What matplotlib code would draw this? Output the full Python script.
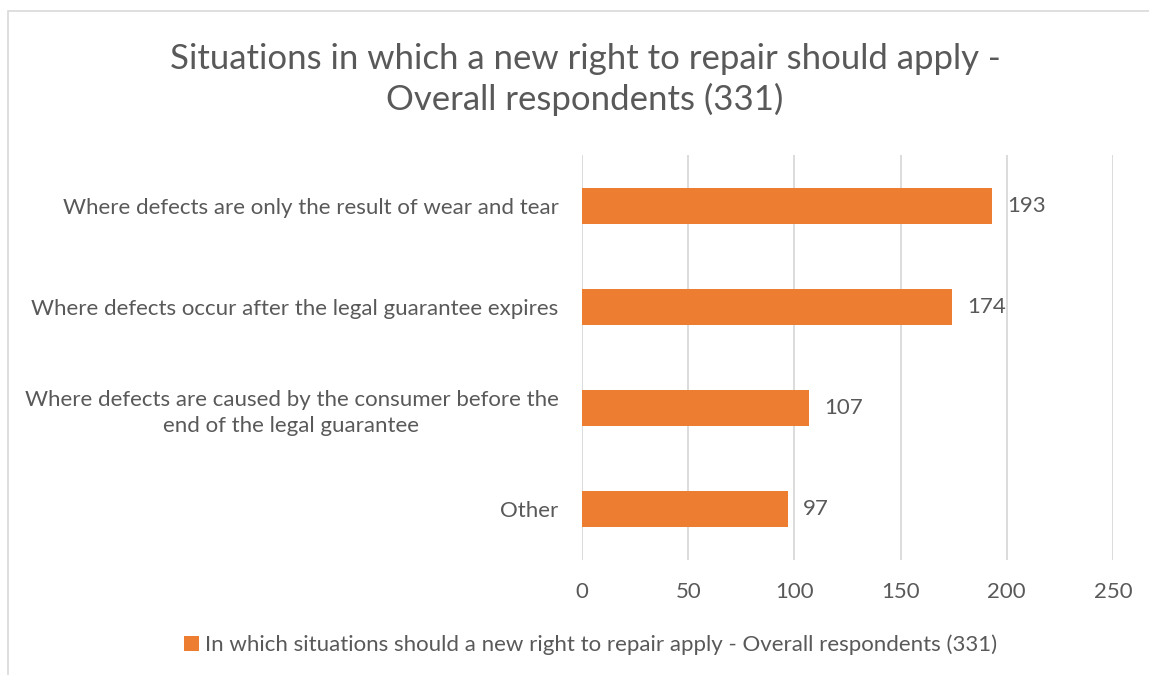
import matplotlib
matplotlib.use("Agg")
import matplotlib.pyplot as plt
from matplotlib.patches import Rectangle, Patch

categories = [
    "Where defects are only the result of wear and tear",
    "Where defects occur after the legal guarantee expires",
    "Where defects are caused by the consumer before the\nend of the legal guarantee",
    "Other",
]
values = [193, 174, 107, 97]
xticks = [0, 50, 100, 150, 200, 250]
title = "Situations in which a new right to repair should apply -\nOverall respondents (331)"
series_name = "In which situations should a new right to repair apply - Overall respondents (331)"

BAR = "#ED7D31"
TXT = "#595959"
GRID = "#D9D9D9"
FONT = ["Lato", "DejaVu Sans"]
plt.rcParams["font.family"] = FONT
FS = 16

W, H = 1149, 675
fig = plt.figure(figsize=(W / 100, H / 100), dpi=100)

# chart border
fig.patches.append(Rectangle((8 / W, -0.1), 1.2, 1 - 11 / H + 0.1, transform=fig.transFigure,
                             fill=False, edgecolor=GRID, linewidth=1.2))

ax = fig.add_axes([582 / W, 1 - 560 / H, (1113 - 582) / W, (560 - 155) / H])
y = list(range(len(categories)))
ax.barh(y, values, height=0.355, color=BAR, zorder=3)
ax.set_ylim(len(categories) - 0.5, -0.5)
ax.set_xlim(0, 250)
ax.set_xticks(xticks)
ax.set_xticklabels([str(t) for t in xticks])
ax.set_yticks(y)
ax.set_yticklabels(categories, multialignment="center", linespacing=1.35)
ax.tick_params(axis="x", length=0, pad=16, labelsize=FS, labelcolor=TXT)
ax.tick_params(axis="y", length=0, pad=17, labelsize=FS, labelcolor=TXT)
for s in ax.spines.values():
    s.set_visible(False)
ax.grid(axis="x", color=GRID, linewidth=1.3, zorder=0)
ax.set_axisbelow(True)

for yi, v in zip(y, values):
    ax.annotate(str(v), (v, yi), xytext=(11, 0), textcoords="offset points",
                va="center", ha="left", fontsize=FS, color=TXT)

fig.text(585 / W, 1 - 79.5 / H, title, ha="center", va="center", fontsize=25,
         color=TXT, linespacing=1.3)

handle = Patch(facecolor=BAR, edgecolor="none")
leg = fig.legend([handle], [series_name], loc="center", bbox_to_anchor=(591 / W, 1 - 645 / H),
                 frameon=False, fontsize=FS, handlelength=0.65, handleheight=0.65,
                 handletextpad=0.3, borderaxespad=0)
for t in leg.get_texts():
    t.set_color(TXT)

fig.savefig("out.png", dpi=100, facecolor="white")
